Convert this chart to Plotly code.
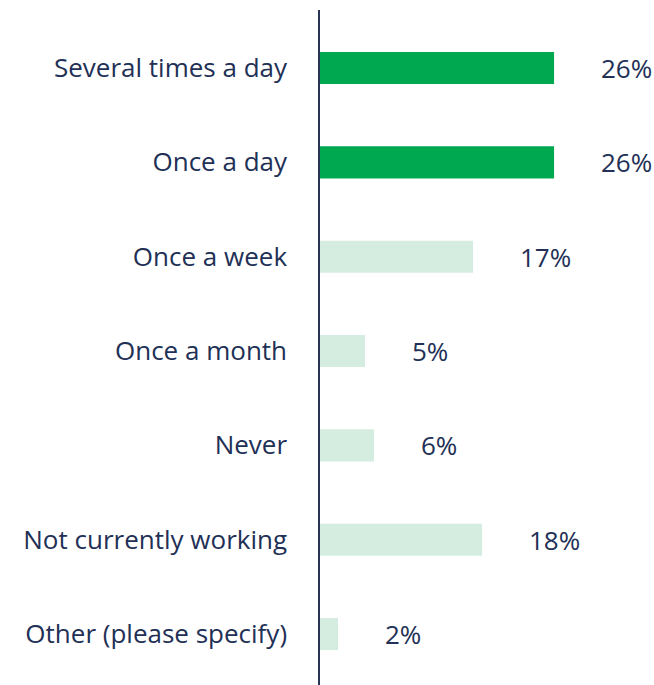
import plotly.graph_objects as go

categories = [
    "Several times a day",
    "Once a day",
    "Once a week",
    "Once a month",
    "Never",
    "Not currently working",
    "Other (please specify)",
]
values = [26, 26, 17, 5, 6, 18, 2]
highlight = [True, True, False, False, False, False, False]

DARK = "#00A94F"
LIGHT = "#D5ECE0"
TEXT = "#223056"
FONT = "Open Sans"
SIZE = 26

colors = [DARK if h else LIGHT for h in highlight]

fig = go.Figure()
fig.add_trace(
    go.Bar(
        x=values,
        y=categories,
        orientation="h",
        marker=dict(color=colors, line=dict(width=0)),
        width=0.34,
        showlegend=False,
        hoverinfo="skip",
    )
)

for cat, val in zip(categories, values):
    fig.add_annotation(
        x=val,
        y=cat,
        text=f"{val}%",
        showarrow=False,
        xanchor="left",
        xshift=45,
        font=dict(family=FONT, size=SIZE, color=TEXT),
    )

fig.update_layout(
    width=654,
    height=685,
    margin=dict(l=320, r=0, t=10, b=0),
    plot_bgcolor="white",
    paper_bgcolor="white",
    font=dict(family=FONT, size=SIZE, color=TEXT),
    xaxis=dict(
        range=[0, 37.1],
        visible=False,
        showgrid=False,
        zeroline=False,
    ),
    yaxis=dict(
        type="category",
        range=[6.54, -0.615],
        showgrid=False,
        zeroline=False,
        showline=True,
        linecolor="#2A3556",
        linewidth=1.5,
        ticks="",
        ticklabelstandoff=26,
        tickfont=dict(family=FONT, size=SIZE, color=TEXT),
    ),
)

# drop the default 8px body margin so the figure fills the window exactly
fig.write_html(
    "out.html",
    config={"displayModeBar": False},
    post_script="document.body.style.margin='0';document.body.style.overflow='hidden';",
)
